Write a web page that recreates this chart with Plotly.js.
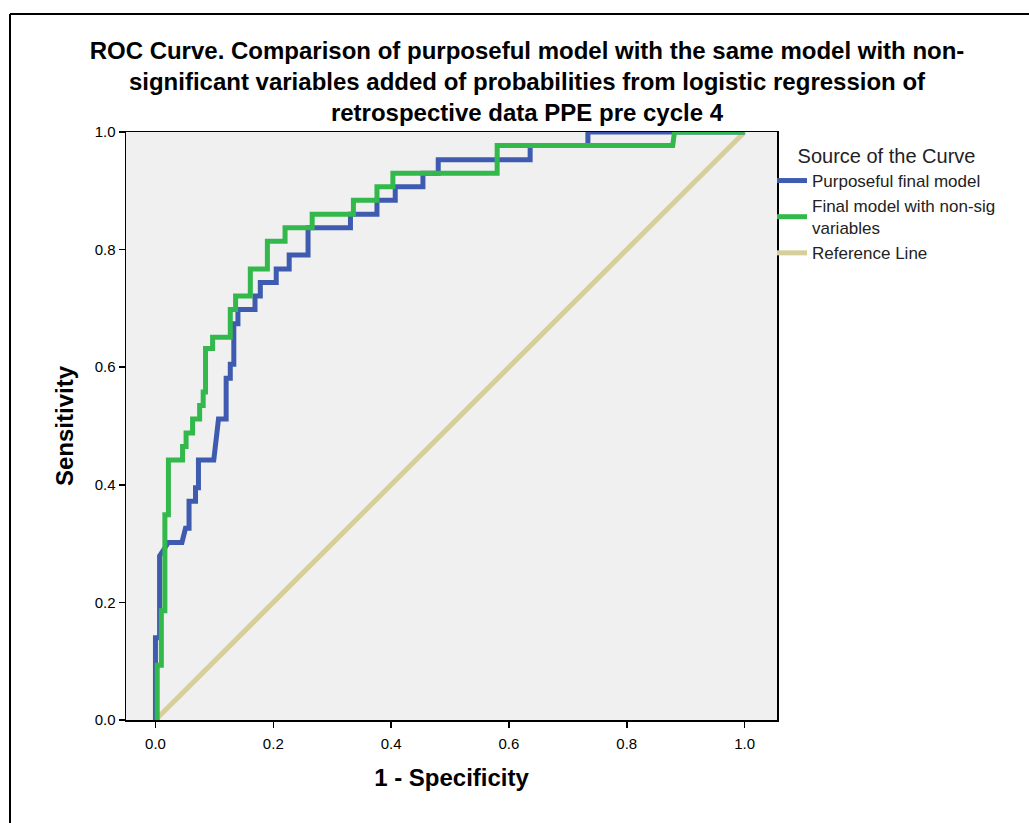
<!DOCTYPE html>
<html>
<head>
<meta charset="utf-8">
<script src="https://cdn.plot.ly/plotly-3.0.1.min.js"></script>
<style>
  html, body { margin: 0; padding: 0; background: #ffffff; }
  #chart { width: 1029px; height: 823px; }
</style>
</head>
<body>
<div id="chart"></div>
<script>
// Purposeful final model (1 - specificity, sensitivity)
const purposefulX = [0, 0, 0.007, 0.007, 0.022, 0.045, 0.051, 0.057, 0.057, 0.068, 0.068, 0.073, 0.073, 0.099, 0.107, 0.120, 0.120, 0.127, 0.127, 0.133, 0.133, 0.140, 0.140, 0.169, 0.169, 0.178, 0.178, 0.205, 0.205, 0.227, 0.227, 0.259, 0.259, 0.331, 0.331, 0.376, 0.376, 0.407, 0.407, 0.454, 0.454, 0.480, 0.480, 0.636, 0.636, 0.734, 0.734, 1];
const purposefulY = [0, 0.140, 0.140, 0.279, 0.302, 0.302, 0.326, 0.326, 0.372, 0.372, 0.395, 0.395, 0.442, 0.442, 0.512, 0.512, 0.581, 0.581, 0.605, 0.605, 0.674, 0.674, 0.698, 0.698, 0.721, 0.721, 0.744, 0.744, 0.767, 0.767, 0.791, 0.791, 0.837, 0.837, 0.860, 0.860, 0.884, 0.884, 0.907, 0.907, 0.930, 0.930, 0.953, 0.953, 0.977, 0.977, 1, 1];

// Final model with non-sig variables
const nonsigX = [0.003, 0.003, 0.010, 0.010, 0.016, 0.016, 0.022, 0.022, 0.046, 0.046, 0.052, 0.052, 0.063, 0.063, 0.075, 0.075, 0.081, 0.081, 0.085, 0.085, 0.097, 0.097, 0.127, 0.127, 0.136, 0.136, 0.161, 0.161, 0.190, 0.190, 0.220, 0.220, 0.266, 0.266, 0.336, 0.336, 0.376, 0.376, 0.403, 0.403, 0.580, 0.580, 0.878, 0.881, 1];
const nonsigY = [0, 0.093, 0.093, 0.186, 0.186, 0.349, 0.349, 0.442, 0.442, 0.465, 0.465, 0.488, 0.488, 0.512, 0.512, 0.535, 0.535, 0.558, 0.558, 0.632, 0.632, 0.651, 0.651, 0.698, 0.698, 0.721, 0.721, 0.767, 0.767, 0.814, 0.814, 0.837, 0.837, 0.860, 0.860, 0.884, 0.884, 0.907, 0.907, 0.930, 0.930, 0.977, 0.977, 1, 1];

// Reference line
const refX = [0, 1];
const refY = [0, 1];

const tickVals = [0, 0.2, 0.4, 0.6, 0.8, 1.0];
const tickText = ["0.0", "0.2", "0.4", "0.6", "0.8", "1.0"];

const seriesNames = ["Purposeful final model", "Final model with non-sig<br>variables", "Reference Line"];

const titleLines = [
  "ROC Curve. Comparison of purposeful model with the same model with non-",
  "significant variables added of probabilities from logistic regression of",
  "retrospective data PPE pre cycle 4"
];

const FONT = "Liberation Sans, Arial, sans-serif";

const traces = [
  {x: refX, y: refY, mode: "lines", name: seriesNames[2], legendrank: 3,
   line: {color: "#d6cf9b", width: 5}, hoverinfo: "skip"},
  {x: purposefulX, y: purposefulY, mode: "lines", name: seriesNames[0], legendrank: 1,
   line: {color: "#3e5bb0", width: 5}},
  {x: nonsigX, y: nonsigY, mode: "lines", name: seriesNames[1], legendrank: 2,
   line: {color: "#33b94b", width: 5}}
];

// plot area in px: left 126, right 777, top 132, bottom 720
const px2x = p => (p - 126) / 651;
const px2y = p => (720 - p) / 588;

const layout = {
  width: 1029, height: 823,
  margin: {l: 126, r: 252, t: 132, b: 103},
  paper_bgcolor: "#ffffff",
  plot_bgcolor: "#f0f0f0",
  font: {family: FONT, color: "#000000", size: 15},
  title: {
    text: "<b>" + titleLines.join("<br>") + "</b>",
    font: {family: FONT, size: 24, color: "#000000"},
    x: 527 / 1029, xref: "container", xanchor: "center",
    y: 1 - 59 / 823, yref: "container", yanchor: "middle"
  },
  xaxis: {
    range: [-0.05, 1.055], tickvals: tickVals, ticktext: tickText,
    showgrid: false, zeroline: false,
    showline: true, mirror: true, linecolor: "#000000", linewidth: 1.5,
    ticks: "outside", ticklen: 6, tickwidth: 1.5, tickcolor: "#000000",
    ticklabelstandoff: 3,
    tickfont: {family: FONT, size: 15, color: "#000000"},
    title: {text: "<b>1 - Specificity</b>", font: {family: FONT, size: 24, color: "#000000"}, standoff: 18}
  },
  yaxis: {
    range: [0, 1], tickvals: tickVals, ticktext: tickText,
    showgrid: false, zeroline: false,
    showline: true, mirror: true, linecolor: "#000000", linewidth: 1.5,
    ticks: "outside", ticklen: 6, tickwidth: 1.5, tickcolor: "#000000",
    tickfont: {family: FONT, size: 15, color: "#000000"},
    title: {text: "<b>Sensitivity</b>", font: {family: FONT, size: 24, color: "#000000"}, standoff: 14}
  },
  showlegend: true,
  legend: {
    x: px2x(772), xanchor: "left",
    y: px2y(137), yanchor: "top",
    bgcolor: "rgba(0,0,0,0)",
    font: {family: FONT, size: 17, color: "#222222"},
    title: {text: "Source of the Curve", side: "top center", font: {family: FONT, size: 20, color: "#222222"}},
    tracegroupgap: 0
  },
  shapes: [
    {type: "line", xref: "paper", yref: "paper", x0: px2x(10), x1: px2x(1029),
     y0: px2y(14), y1: px2y(14), line: {color: "#000000", width: 2}},
    {type: "line", xref: "paper", yref: "paper", x0: px2x(10), x1: px2x(10),
     y0: px2y(14), y1: px2y(823), line: {color: "#000000", width: 2}}
  ]
};

Plotly.newPlot("chart", traces, layout, {displayModeBar: false, staticPlot: true});
</script>
</body>
</html>
